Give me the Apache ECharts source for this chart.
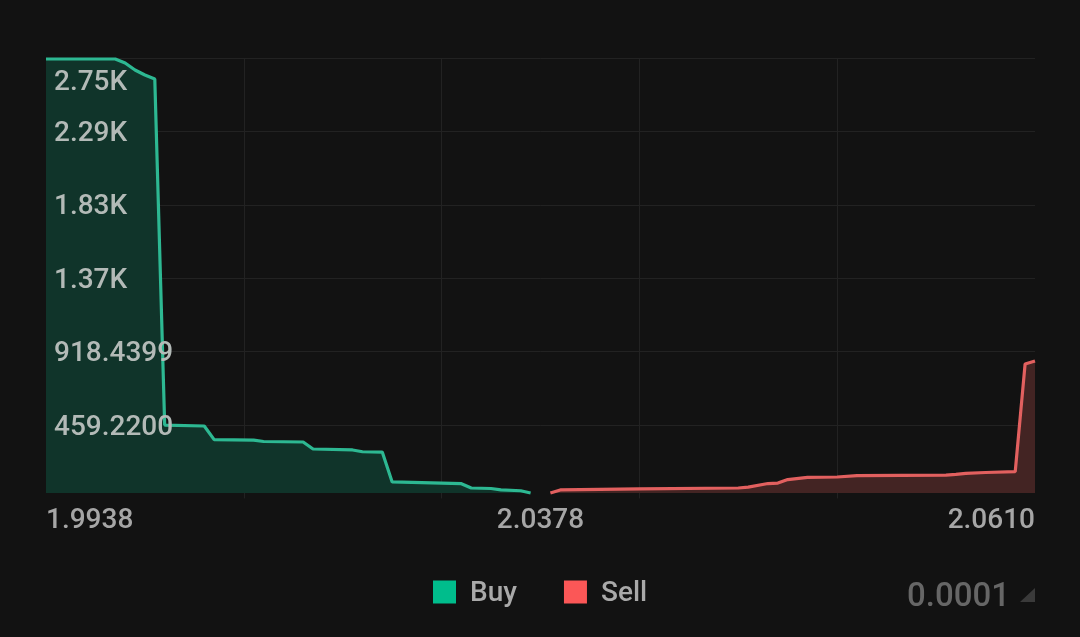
<!DOCTYPE html>
<html>
<head>
<meta charset="utf-8">
<style>
  html, body { margin: 0; padding: 0; background: #121212; }
  #chart { width: 1080px; height: 637px; }
</style>
<script src="https://cdn.jsdelivr.net/npm/echarts@6/dist/echarts.min.js"></script>
</head>
<body>
<div id="chart"></div>
<script>
// x is the order-book level (0-100), the price axis is not linear
const buyLevels = [0, 7, 8, 9, 10, 11, 12, 16, 17, 21, 22, 26, 27, 31, 32, 34, 35, 40, 42, 43, 45, 46, 48, 49];
const buyDepth = [2749, 2749, 2724, 2680, 2649, 2624, 459, 453, 368, 365, 356, 353, 309, 303, 292, 290, 103, 96, 92, 65, 62, 53, 48, 34];
const sellLevels = [51, 52, 60, 70, 71, 73, 74, 75, 77, 80, 82, 91, 92, 93, 95, 98, 99, 100];
const sellDepth = [34, 53, 59, 65, 71, 93, 96, 118, 131, 134, 143, 146, 150, 156, 162, 168, 841, 860];

const xTickValues = [0, 50, 100];
const xTickLabels = ['1.9938', '2.0378', '2.0610'];
const yTickStep = 459.22;
const yMax = 2755.32;
// label anchors sit a little under their gridlines, the top one lower still
const yLabelValues = [443, 902, 1362, 1821, 2280, 2597];
const yTickLabels = ['459.2200', '918.4399', '1.37K', '1.83K', '2.29K', '2.75K'];
const depthFloor = 34;

const zip = (xs, ys) => xs.map((x, i) => [x, ys[i]]);

const chart = echarts.init(document.getElementById('chart'));

const labelFont = { fontFamily: 'Roboto', fontSize: 28, fontWeight: 500 };

chart.setOption({
  backgroundColor: '#121212',
  animation: false,
  grid: { left: 46, right: 45, top: 58, bottom: 138.6 },
  legend: {
    left: 428,
    top: 575,
    itemWidth: 23,
    itemHeight: 23,
    itemGap: 47,
    icon: 'rect',
    formatter: '{t|{name}}',
    textStyle: {
      color: '#a9a9a9',
      padding: [0, 0, 0, 9],
      ...labelFont,
      rich: { t: { color: '#a9a9a9', padding: [4, 0, 0, 0], ...labelFont } }
    },
    data: ['Buy', 'Sell']
  },
  xAxis: [
    {
      type: 'value',
      min: 0,
      max: 100,
      axisLine: { show: false },
      axisTick: { show: false },
      splitLine: { show: false },
      axisLabel: {
        customValues: xTickValues,
        formatter: (v) => xTickLabels[xTickValues.indexOf(v)],
        alignMinLabel: 'left',
        alignMaxLabel: 'right',
        color: '#a6a6a6',
        margin: 9,
        ...labelFont
      }
    },
    {
      type: 'value',
      position: 'bottom',
      min: 0,
      max: 100,
      interval: 20,
      axisLine: { show: false },
      axisTick: { show: false },
      axisLabel: { show: false },
      splitLine: { show: true, showMinLine: false, showMaxLine: false, lineStyle: { color: '#222222', width: 1 } }
    }
  ],
  yAxis: [
    {
      type: 'value',
      min: 0,
      max: yMax,
      interval: yTickStep,
      axisLine: { show: false },
      axisTick: { show: false },
      axisLabel: { show: false },
      splitLine: { show: true, showMinLine: false, lineStyle: { color: '#222222', width: 1 } }
    },
    {
      // labels only, drawn above the areas
      type: 'value',
      position: 'left',
      min: 0,
      max: yMax,
      interval: yTickStep,
      z: 5,
      axisLine: { show: false },
      axisTick: { show: false },
      splitLine: { show: false },
      axisLabel: {
        inside: true,
        customValues: yLabelValues,
        formatter: (v) => yTickLabels[yLabelValues.indexOf(v)],
        color: '#b3bab7',
        margin: 8,
        ...labelFont
      }
    }
  ],
  series: [
    {
      name: 'Buy',
      type: 'line',
      data: zip(buyLevels, buyDepth),
      symbol: 'none',
      itemStyle: { color: '#00bd8c' },
      lineStyle: { color: '#2db892', width: 3.2 },
      areaStyle: { color: '#10342a', opacity: 1, origin: depthFloor }
    },
    {
      name: 'Sell',
      type: 'line',
      data: zip(sellLevels, sellDepth),
      symbol: 'none',
      itemStyle: { color: '#fb5757' },
      lineStyle: { color: '#e2605f', width: 3.2 },
      areaStyle: { color: '#432423', opacity: 1, origin: depthFloor }
    }
  ],
  graphic: [
    {
      type: 'text',
      right: 70,
      top: 581,
      style: { text: '0.0001', fill: '#666666', font: '500 33px Roboto' }
    },
    {
      type: 'polygon',
      shape: { points: [[1035, 588], [1035, 602], [1020, 602]] },
      style: { fill: '#3a3a3a' }
    }
  ]
});
</script>
</body>
</html>
